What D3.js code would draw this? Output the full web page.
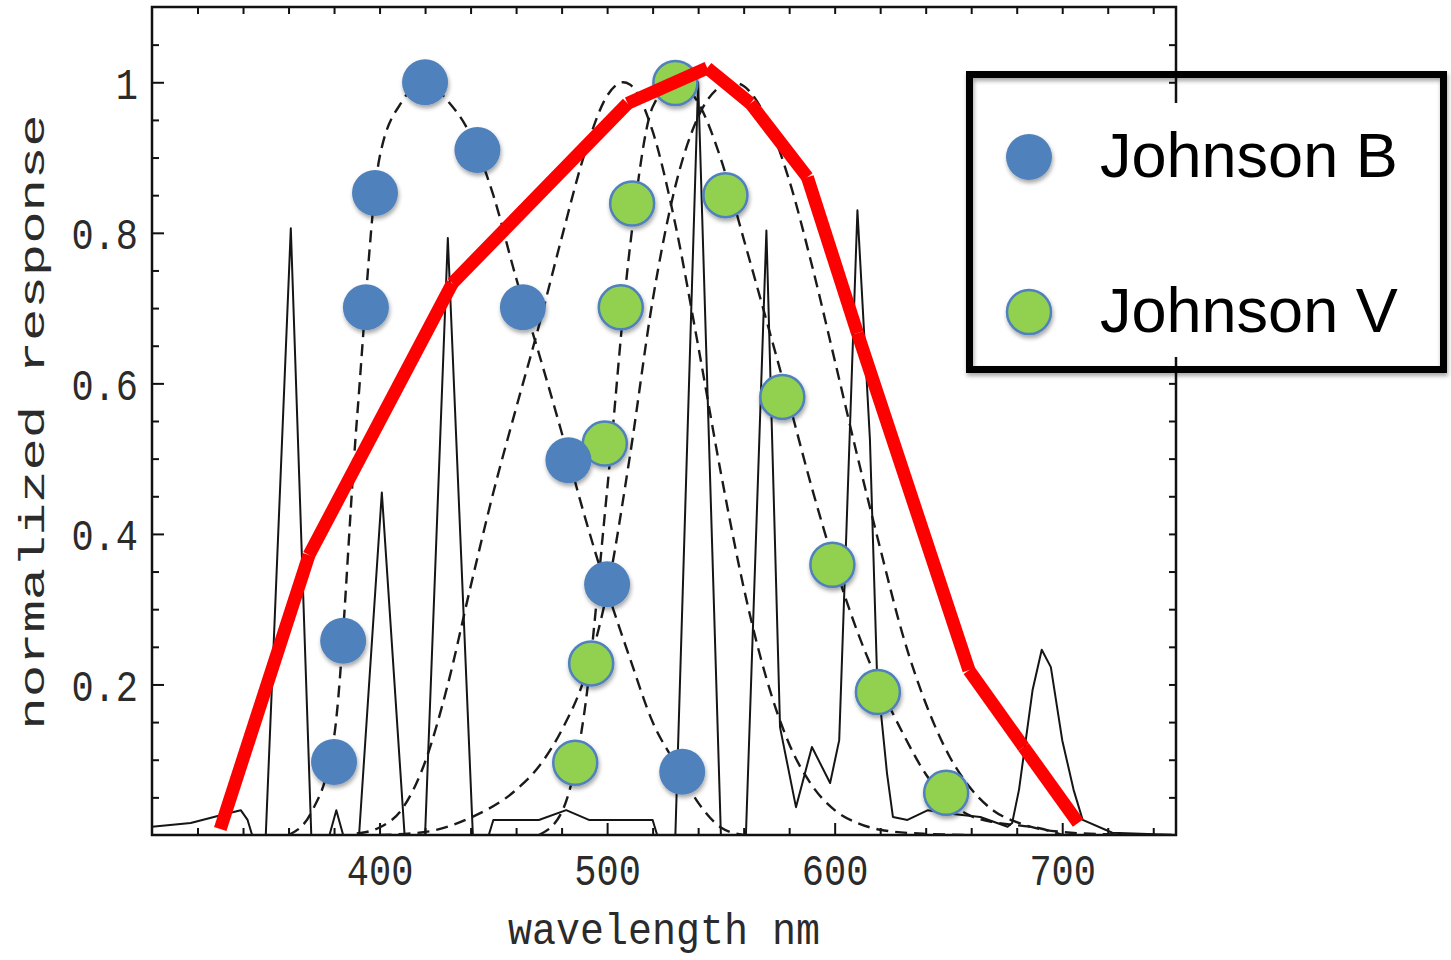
<!DOCTYPE html>
<html>
<head>
<meta charset="utf-8">
<script src="https://cdn.jsdelivr.net/npm/d3@7"></script>
<style>
  body { margin: 0; background: #fff; }
  svg { display: block; }
</style>
</head>
<body>
<div id="chart"></div>
<script>
// ---- data ----
const bFilterNm   = [360, 370, 380, 390, 400, 410, 420, 430, 440, 450, 460, 470, 480, 490, 500, 510, 520, 530, 540, 550, 560]
const bFilterResp = [0, 0.03, 0.13, 0.55, 0.9, 0.975, 1, 0.975, 0.93, 0.85, 0.74, 0.64, 0.535, 0.425, 0.325, 0.235, 0.15, 0.095, 0.043, 0.01, 0]

const vFilterNm   = [470, 480, 490, 500, 510, 520, 530, 540, 550, 560, 570, 580, 590, 600, 610, 620, 630, 640, 650, 660, 670, 680, 690, 700]
const vFilterResp = [0, 0.03, 0.163, 0.458, 0.78, 0.967, 1, 0.973, 0.898, 0.792, 0.684, 0.574, 0.461, 0.359, 0.27, 0.197, 0.135, 0.081, 0.045, 0.025, 0.017, 0.013, 0.009, 0]

const scotopicNm   = [390, 400, 410, 420, 430, 440, 450, 460, 470, 480, 490, 500, 507, 510, 520, 530, 540, 550, 560, 570, 580, 590, 600, 610, 620, 640, 660]
const scotopicResp = [0.002, 0.01, 0.035, 0.097, 0.2, 0.33, 0.455, 0.567, 0.676, 0.793, 0.904, 0.982, 1, 0.997, 0.935, 0.811, 0.65, 0.481, 0.329, 0.208, 0.121, 0.066, 0.033, 0.016, 0.007, 0.0015, 0]

const photopicNm   = [400, 420, 440, 460, 470, 480, 490, 500, 510, 520, 530, 540, 550, 555, 560, 570, 580, 590, 600, 610, 620, 630, 640, 650, 660, 670, 680, 690, 700, 720, 750]
const photopicResp = [0, 0.004, 0.023, 0.06, 0.091, 0.139, 0.208, 0.323, 0.503, 0.71, 0.862, 0.954, 0.995, 1, 0.995, 0.952, 0.87, 0.757, 0.631, 0.503, 0.381, 0.265, 0.175, 0.107, 0.061, 0.032, 0.017, 0.008, 0.004, 0.001, 0]

// lamp emission spectrum (thin solid line)
const lampNm   = [300, 317, 331, 339, 342, 344, 350, 361, 370, 378, 381, 384, 391, 401, 411, 420, 430, 441, 448, 450, 470, 482, 492, 520, 522, 530, 540, 550, 561, 570, 576, 583, 590, 598, 602, 610, 615.5, 618.6, 623, 625.6, 632, 641, 649, 664, 676, 678, 681, 687, 691, 695, 700, 705, 709, 722, 750]
const lampResp = [0.011, 0.016, 0.027, 0.033, 0.02, 0, 0, 0.806, 0, 0, 0.033, 0, 0, 0.455, 0, 0, 0.793, 0, 0, 0.02, 0.02, 0.033, 0.02, 0.02, 0, 0, 1.0, 0, 0, 0.803, 0.143, 0.037, 0.117, 0.069, 0.126, 0.83, 0.525, 0.215, 0.082, 0.024, 0.02, 0.033, 0.029, 0.024, 0.011, 0.016, 0.06, 0.193, 0.246, 0.223, 0.126, 0.06, 0.02, 0.003, 0]

// red overlay polyline
const redNm  = [330, 369, 432, 509, 544, 563, 588, 610, 659, 683, 707]
const redVal = [0.008, 0.372, 0.733, 0.972, 1.019, 0.972, 0.874, 0.667, 0.219, 0.117, 0.016]

// Johnson B / V sample points
const blueNm  = [420, 443, 398, 394, 463, 483, 500, 384, 380, 533]
const blueVal = [1.0, 0.91, 0.853, 0.701, 0.701, 0.498, 0.333, 0.258, 0.097, 0.084]
const greenNm  = [530, 511, 552, 506, 577, 499, 493, 486, 599, 619, 649]
const greenVal = [0.999, 0.839, 0.85, 0.701, 0.582, 0.52, 0.228, 0.096, 0.359, 0.19, 0.056]

const legendLabels = ["Johnson B", "Johnson V"]
const xMajorTicks = [400, 500, 600, 700]
const yMajorTicks = [0.2, 0.4, 0.6, 0.8, 1.0]

// ---- layout ----
const margin = {top: 7, right: 275, bottom: 125, left: 152}
const width = 1451 - margin.left - margin.right
const height = 960 - margin.top - margin.bottom
const monoFont = '"Liberation Mono", "DejaVu Sans Mono", monospace'
const blue = "#4f81bd"
const green = "#92d050"

const zip = (a, b) => a.map((v, i) => [v, b[i]])

const svgRoot = d3.select("#chart")
  .append("svg")
  .attr("width", 1451)
  .attr("height", 960)

const defs = svgRoot.append("defs")
defs.append("clipPath").attr("id", "plotclip")
  .append("rect").attr("width", width).attr("height", height)
const shadow = defs.append("filter").attr("id", "shadow")
  .attr("x", "-30%").attr("y", "-30%").attr("width", "160%").attr("height", "160%")
shadow.append("feDropShadow")
  .attr("dx", 1).attr("dy", 3).attr("stdDeviation", 2)
  .attr("flood-color", "#000").attr("flood-opacity", 0.35)

const svg = svgRoot.append("g")
  .attr("transform", "translate(" + margin.left + "," + margin.top + ")")

const x = d3.scaleLinear().domain([300, 750]).range([0, width])
const y = d3.scaleLinear().domain([0, 1.1]).range([height, 0])

// ---- axes (Mathematica style frame, ticks pointing inward) ----
const styleAxis = g => {
  g.select(".domain").remove()
  g.selectAll(".tick line").attr("stroke", "#111").attr("stroke-width", 2)
}
const xMinor = d3.range(320, 750, 20).filter(v => v % 100 !== 0)
const yMinor = d3.range(1, 22).map(i => i * 0.05).filter((v, i) => (i + 1) % 4 !== 0)

svg.append("g").attr("transform", "translate(0," + height + ")")
  .call(d3.axisBottom(x).tickValues(xMinor).tickSize(-7).tickFormat(""))
  .call(styleAxis)
svg.append("g").attr("transform", "translate(0,0)")
  .call(d3.axisTop(x).tickValues(xMinor.concat(xMajorTicks)).tickSize(-7).tickFormat(""))
  .call(styleAxis)
svg.append("g").attr("transform", "translate(" + width + ",0)")
  .call(d3.axisRight(y).tickValues(yMinor.concat(yMajorTicks)).tickSize(-7).tickFormat(""))
  .call(styleAxis)
svg.append("g")
  .call(d3.axisLeft(y).tickValues(yMinor).tickSize(-7).tickFormat(""))
  .call(styleAxis)

const xAxis = svg.append("g")
  .attr("class", "xAxis")
  .attr("transform", "translate(0," + height + ")")
  .call(d3.axisBottom(x).tickValues(xMajorTicks).tickSize(-12))
  .call(styleAxis)
xAxis.attr("font-family", monoFont).attr("font-size", 37)
xAxis.selectAll(".tick text")
  .attr("fill", "#2b2b2b")
  .attr("y", 0).attr("dy", 0)
  .attr("transform", "translate(0,50) scale(1,1.2)")

const yAxis = svg.append("g")
  .attr("class", "yAxis")
  .call(d3.axisLeft(y).tickValues(yMajorTicks).tickSize(-12)
    .tickFormat(d => d === 1 ? "1" : d3.format(".1f")(d)))
  .call(styleAxis)
yAxis.attr("font-family", monoFont).attr("font-size", 37)
yAxis.selectAll(".tick text")
  .attr("fill", "#2b2b2b")
  .attr("x", 0).attr("dy", "0.36em")
  .attr("transform", "translate(-14,0) scale(1,1.2)")

svg.append("rect")
  .attr("width", width).attr("height", height)
  .attr("fill", "none").attr("stroke", "#111").attr("stroke-width", 2.5)

// axis titles
svg.append("text")
  .attr("transform", "translate(" + (width / 2) + "," + (height + 109) + ") scale(1,1.1)")
  .attr("text-anchor", "middle")
  .attr("font-family", monoFont).attr("font-size", 40)
  .attr("fill", "#2b2b2b")
  .text("wavelength nm")

svg.append("text")
  .attr("transform", "translate(-108," + 415 + ") scale(1,1.5) rotate(-90)")
  .attr("text-anchor", "middle")
  .attr("font-family", monoFont).attr("font-size", 36)
  .attr("fill", "#2b2b2b")
  .text("normalized response")

// ---- curves ----
const plot = svg.append("g").attr("clip-path", "url(#plotclip)")
const smooth = d3.line().x(d => x(d[0])).y(d => y(d[1])).curve(d3.curveMonotoneX)
const straight = d3.line().x(d => x(d[0])).y(d => y(d[1]))

const dashed = [zip(bFilterNm, bFilterResp), zip(scotopicNm, scotopicResp),
  zip(vFilterNm, vFilterResp), zip(photopicNm, photopicResp)]
plot.selectAll("path.filter")
  .data(dashed)
  .enter().append("path")
  .attr("class", "filter")
  .attr("d", smooth)
  .attr("fill", "none")
  .attr("stroke", "#1a1a1a")
  .attr("stroke-width", 2.4)
  .attr("stroke-dasharray", "12,7")

plot.append("path")
  .datum(zip(lampNm, lampResp))
  .attr("d", straight)
  .attr("fill", "none")
  .attr("stroke", "#151515")
  .attr("stroke-width", 2)
  .attr("stroke-linejoin", "round")

// ---- dots ----
const dotLayer = svg.append("g").attr("filter", "url(#shadow)")
dotLayer.selectAll("circle.v")
  .data(zip(greenNm, greenVal))
  .enter().append("circle")
  .attr("class", "v")
  .attr("cx", d => x(d[0])).attr("cy", d => y(d[1]))
  .attr("r", 22)
  .attr("fill", green)
  .attr("stroke", blue).attr("stroke-width", 2.5)
dotLayer.selectAll("circle.b")
  .data(zip(blueNm, blueVal))
  .enter().append("circle")
  .attr("class", "b")
  .attr("cx", d => x(d[0])).attr("cy", d => y(d[1]))
  .attr("r", 23)
  .attr("fill", blue)

// ---- red polyline, drawn as separate segments ----
const redPts = zip(redNm, redVal)
svg.selectAll("line.red")
  .data(d3.pairs(redPts))
  .enter().append("line")
  .attr("class", "red")
  .attr("x1", d => x(d[0][0])).attr("y1", d => y(d[0][1]))
  .attr("x2", d => x(d[1][0])).attr("y2", d => y(d[1][1]))
  .attr("stroke", "#ff0000")
  .attr("stroke-width", 13)
  .attr("stroke-linecap", "butt")

// ---- legend ----
const legend = svgRoot.append("g").attr("class", "legend")
legend.append("rect")
  .attr("x", 973).attr("y", 103).attr("width", 467).attr("height", 254)
  .attr("fill", "#fff")
legend.append("rect")
  .attr("x", 969.5).attr("y", 74.5).attr("width", 474).attr("height", 295)
  .attr("fill", "none").attr("stroke", "#000").attr("stroke-width", 7)
  .attr("filter", "url(#shadow)")

const items = legend.selectAll("g.item")
  .data(legendLabels)
  .enter().append("g")
  .attr("class", "item")
  .attr("transform", (d, i) => "translate(0," + (i * 155) + ")")
items.append("circle")
  .attr("cx", 1029).attr("cy", 157)
  .attr("r", (d, i) => i === 0 ? 23 : 22)
  .attr("fill", (d, i) => i === 0 ? blue : green)
  .attr("stroke", (d, i) => i === 0 ? "none" : blue)
  .attr("stroke-width", 2.5)
  .attr("filter", "url(#shadow)")
items.append("text")
  .attr("x", 1100).attr("y", 177)
  .attr("font-family", '"Liberation Sans", Arial, sans-serif')
  .attr("font-size", 63)
  .attr("fill", "#000")
  .text(d => d)
</script>
</body>
</html>
